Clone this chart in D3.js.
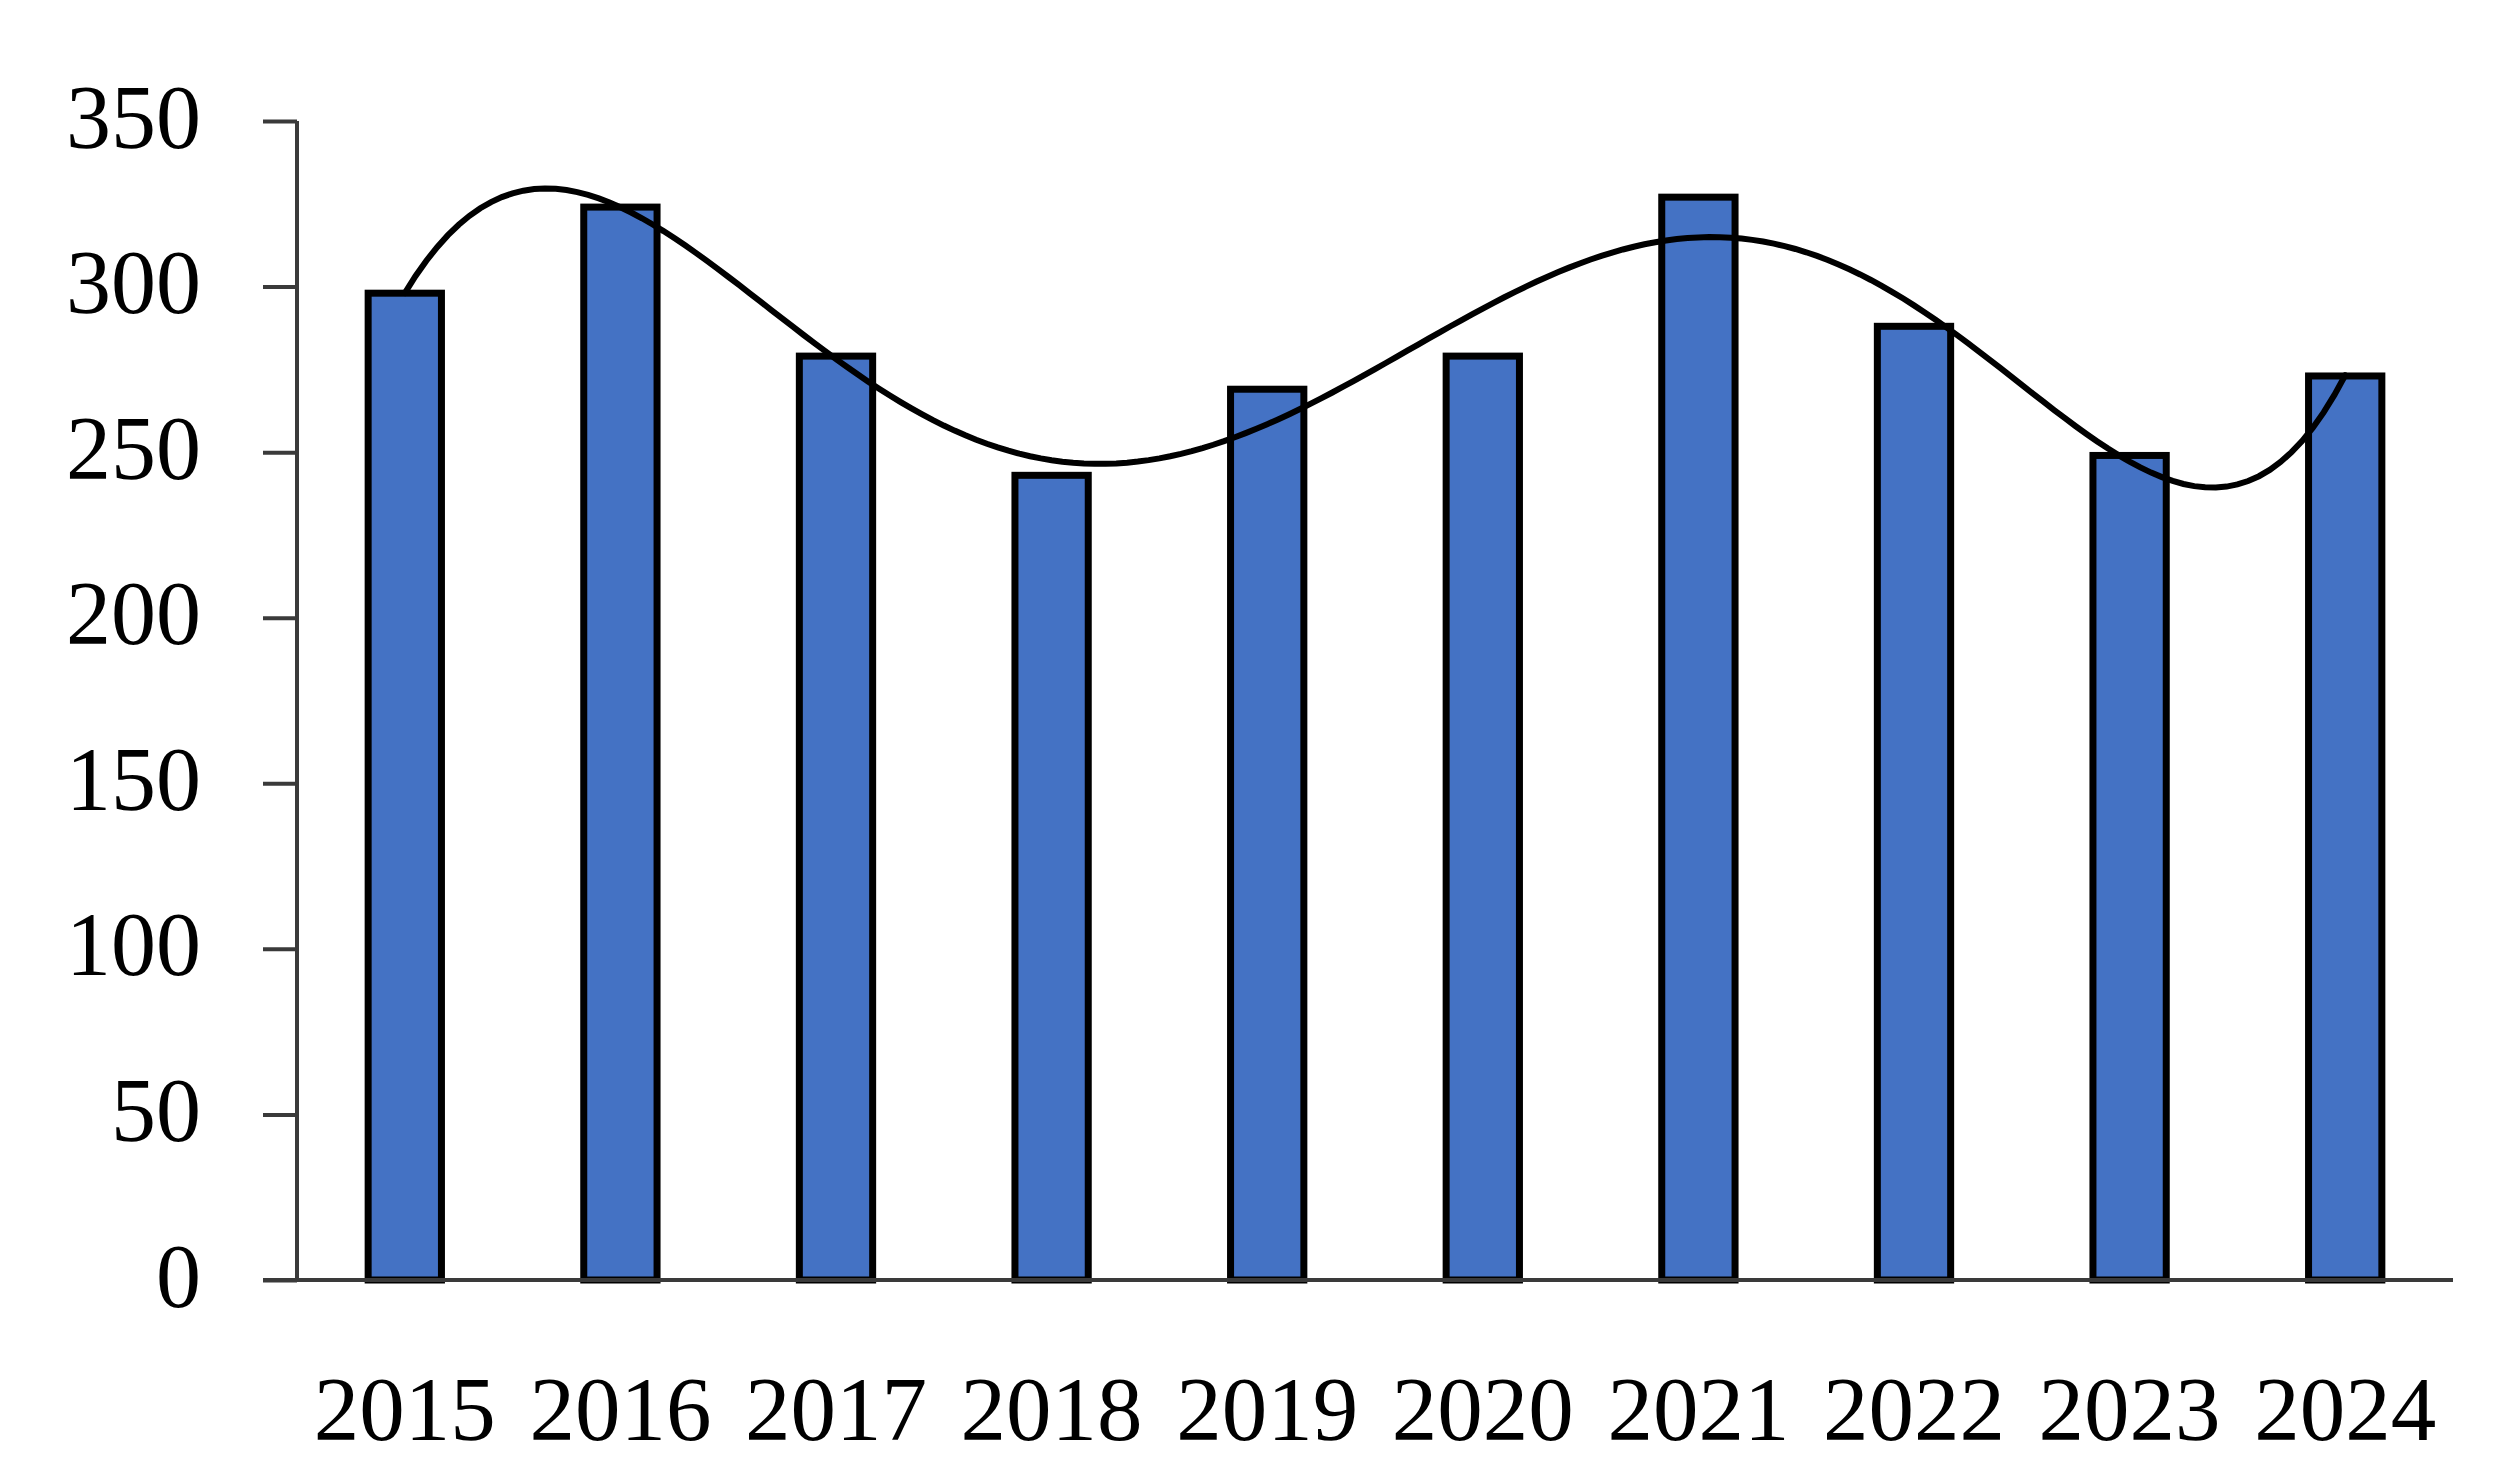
<!doctype html>
<html>
    <head>
        <script src="https://cdn.jsdelivr.net/npm/d3@7/dist/d3.min.js"></script>
        <style>
            html, body {
                margin: 0;
                padding: 0;
                background: #ffffff;
            }
            #viz {
                position: absolute;
                top: 0px;
                left: 0px;
                width: 2493px;
                height: 1479px;
            }
            text {
                font-family: "Liberation Serif", "DejaVu Serif", serif;
                fill: #000000;
            }
        </style>
    </head>
    <body>
        <div id="viz"></div>
        <script>
            var years = ["2015", "2016", "2017", "2018", "2019", "2020", "2021", "2022", "2023", "2024"];
            var values = [298, 324, 279, 243, 269, 279, 327, 288, 249, 273];
            var yTicks = [0, 50, 100, 150, 200, 250, 300, 350];
            var trendOrder = 6;

            // least squares polynomial, like the spreadsheet trendline
            var polyFit = function (ys, order) {
                var n = order + 1;
                var A = [];
                for (var r = 0; r < n; r++) {
                    var row = [];
                    for (var c = 0; c <= n; c++) row.push(0);
                    A.push(row);
                }
                ys.forEach(function (yv, i) {
                    var xv = i - (ys.length - 1) / 2;
                    for (var r = 0; r < n; r++) {
                        for (var c = 0; c < n; c++) {
                            A[r][c] += Math.pow(xv, r + c);
                        }
                        A[r][n] += yv * Math.pow(xv, r);
                    }
                });
                for (var k = 0; k < n; k++) {
                    var p = k;
                    for (var r = k + 1; r < n; r++) {
                        if (Math.abs(A[r][k]) > Math.abs(A[p][k])) p = r;
                    }
                    var tmp = A[k]; A[k] = A[p]; A[p] = tmp;
                    for (var r = k + 1; r < n; r++) {
                        var f = A[r][k] / A[k][k];
                        for (var c = k; c <= n; c++) A[r][c] -= f * A[k][c];
                    }
                }
                var coef = new Array(n).fill(0);
                for (var r = n - 1; r >= 0; r--) {
                    var s = A[r][n];
                    for (var c = r + 1; c < n; c++) s -= A[r][c] * coef[c];
                    coef[r] = s / A[r][r];
                }
                return function (i) {
                    var xv = i - (ys.length - 1) / 2;
                    var out = 0;
                    for (var r = 0; r < n; r++) out += coef[r] * Math.pow(xv, r);
                    return out;
                };
            };

            var w = 2493;
            var h = 1479;
            var padL = 297, padR = 2453, padT = 121, padB = 1280;

            var svg = d3.select("#viz").append("svg")
                .attr("width", w)
                .attr("height", h);

            svg.append("rect")
                .attr("width", w)
                .attr("height", h)
                .attr("fill", "#ffffff");

            var x = d3.scaleBand()
                .domain(years)
                .range([padL, padR])
                .paddingInner(0.66)
                .paddingOuter(0.33);

            var y = d3.scaleLinear()
                .domain([0, 350])
                .range([padB, padT]);

            // y axis
            var yAxis = svg.append("g")
                .attr("transform", "translate(" + padL + ",0)")
                .call(d3.axisLeft(y).tickValues(yTicks).tickSize(34).tickPadding(62));
            yAxis.select(".domain")
                .attr("d", "M0," + y(0) + "V" + y(350))
                .attr("stroke", "#3a3a3a")
                .attr("stroke-width", 4);
            yAxis.selectAll(".tick line")
                .attr("stroke", "#3a3a3a")
                .attr("stroke-width", 4);
            yAxis.selectAll(".tick text")
                .attr("font-size", 90)
                .attr("dy", null)
                .attr("y", 26)
                .style("font-family", "'Liberation Serif', 'DejaVu Serif', serif");
            yAxis.attr("font-family", null).attr("font-size", null);

            // bars
            svg.append("g")
                .selectAll("rect")
                .data(values)
                .enter()
                .append("rect")
                    .attr("x", function (d, i) { return x(years[i]); })
                    .attr("y", function (d) { return y(d); })
                    .attr("width", x.bandwidth())
                    .attr("height", function (d) { return y(0) - y(d); })
                    .attr("fill", "#4472C4")
                    .attr("stroke", "#000000")
                    .attr("stroke-width", 7);

            // x axis
            var xAxis = svg.append("g")
                .attr("transform", "translate(0," + padB + ")")
                .call(d3.axisBottom(x).tickSize(0).tickPadding(0));
            xAxis.select(".domain")
                .attr("d", "M" + (padL - 34) + ",0H" + padR)
                .attr("stroke", "#3a3a3a")
                .attr("stroke-width", 4);
            xAxis.selectAll(".tick text")
                .attr("font-size", 91)
                .attr("dy", null)
                .attr("y", 160)
                .style("font-family", "'Liberation Serif', 'DejaVu Serif', serif");
            xAxis.attr("font-family", null).attr("font-size", null);

            // trendline
            var trend = polyFit(values, trendOrder);
            var steps = d3.range(0, (years.length - 1) * 20 + 1).map(function (k) { return k / 20; });
            var xc = function (t) {
                return x(years[0]) + x.bandwidth() / 2 + t * x.step();
            };
            svg.append("path")
                .datum(steps)
                .attr("fill", "none")
                .attr("stroke", "#000000")
                .attr("stroke-width", 6)
                .attr("stroke-linecap", "round")
                .attr("d", d3.line()
                    .x(function (t) { return xc(t); })
                    .y(function (t) { return y(trend(t)); })
                    .curve(d3.curveLinear));
        </script>
    </body>
</html>
